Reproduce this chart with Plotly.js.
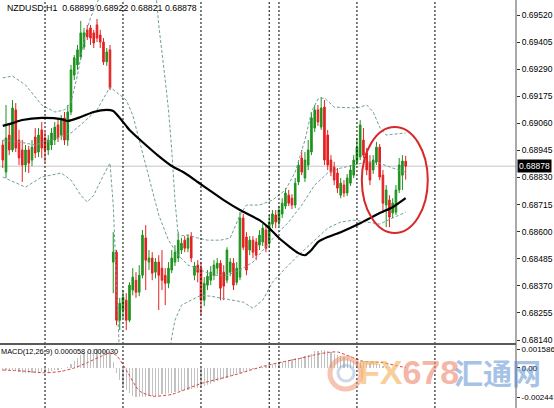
<!DOCTYPE html>
<html>
<head>
<meta charset="utf-8">
<script src="https://cdn.plot.ly/plotly-3.0.1.min.js"></script>
<style>html,body{margin:0;padding:0;background:#fff;}#chart{width:554px;height:408px;}</style>
</head>
<body>
<div id="chart"></div>
<script>
// ---- Candles (NZDUSD H1), bar index 0..124 ----
const open = [0.68968,0.68853,0.69010,0.68947,0.69117,0.68989,0.68947,0.68883,0.68947,0.68904,
0.69002,0.68938,0.69032,0.68998,0.68947,0.68968,0.68989,0.69053,0.69010,0.69083,
0.68989,0.69108,0.69265,0.69308,0.69342,0.69384,0.69457,0.69465,0.69444,0.69478,
0.69435,0.69405,0.69321,0.69372,0.68471,0.68513,0.68224,0.68267,0.68309,0.68224,
0.68352,0.68394,0.68343,0.68415,0.68573,0.68471,0.68488,0.68428,0.68471,0.68445,
0.68415,0.68381,0.68437,0.68471,0.68488,0.68522,0.68564,0.68530,0.68581,0.68415,
0.68458,0.68445,0.68309,0.68373,0.68394,0.68415,0.68445,0.68466,0.68428,0.68394,
0.68428,0.68466,0.68385,0.68407,0.68658,0.68577,0.68522,0.68564,0.68556,0.68543,
0.68556,0.68607,0.68551,0.68632,0.68671,0.68641,0.68675,0.68709,0.68755,0.68742,
0.68713,0.68811,0.68913,0.68828,0.68883,0.68938,0.69040,0.69117,0.69044,0.69129,
0.69010,0.68904,0.68874,0.68849,0.68755,0.68798,0.68764,0.68806,0.68840,0.68896,
0.68917,0.68989,0.68934,0.68896,0.68862,0.68896,0.68959,0.68840,0.68713,0.68734,
0.68679,0.68683,0.68777,0.68840,0.68899];
const high = [0.68989,0.69138,0.69053,0.69159,0.69146,0.69032,0.68989,0.68968,0.68964,0.68989,
0.69040,0.69040,0.69066,0.69023,0.69010,0.69040,0.69066,0.69083,0.69095,0.69108,
0.69138,0.69308,0.69350,0.69393,0.69495,0.69465,0.69478,0.69478,0.69457,0.69503,
0.69457,0.69422,0.69380,0.69393,0.68598,0.68522,0.68319,0.68352,0.68339,0.68385,
0.68445,0.68428,0.68458,0.68607,0.68628,0.68522,0.68513,0.68488,0.68500,0.68522,
0.68445,0.68471,0.68522,0.68543,0.68598,0.68573,0.68581,0.68589,0.68598,0.68471,
0.68479,0.68471,0.68407,0.68437,0.68454,0.68479,0.68488,0.68479,0.68458,0.68534,
0.68488,0.68488,0.68471,0.68683,0.68675,0.68598,0.68581,0.68581,0.68573,0.68607,
0.68632,0.68624,0.68671,0.68692,0.68692,0.68709,0.68742,0.68785,0.68777,0.68759,
0.68828,0.68904,0.68947,0.68938,0.68989,0.69108,0.69138,0.69138,0.69172,0.69159,
0.69032,0.68925,0.68896,0.68870,0.68828,0.68819,0.68845,0.68883,0.68925,0.68998,
0.69074,0.69040,0.68955,0.68925,0.68925,0.68981,0.68972,0.68862,0.68798,0.68755,
0.68742,0.68798,0.68913,0.68925,0.68922];
const low = [0.68870,0.68828,0.68925,0.68938,0.68938,0.68883,0.68811,0.68853,0.68849,0.68879,
0.68913,0.68917,0.68913,0.68896,0.68925,0.68947,0.68968,0.68981,0.68989,0.68968,
0.68964,0.69095,0.69244,0.69287,0.69329,0.69372,0.69414,0.69393,0.69380,0.69405,
0.69380,0.69308,0.69304,0.69202,0.68339,0.68203,0.68182,0.68233,0.68182,0.68216,
0.68330,0.68319,0.68326,0.68402,0.68352,0.68437,0.68394,0.68402,0.68267,0.68352,
0.68288,0.68360,0.68424,0.68454,0.68471,0.68505,0.68513,0.68513,0.68471,0.68394,
0.68385,0.68245,0.68284,0.68352,0.68373,0.68394,0.68419,0.68309,0.68309,0.68381,
0.68411,0.68352,0.68373,0.68394,0.68522,0.68415,0.68500,0.68488,0.68479,0.68522,
0.68539,0.68513,0.68534,0.68615,0.68615,0.68624,0.68658,0.68696,0.68709,0.68696,
0.68700,0.68798,0.68840,0.68811,0.68862,0.68925,0.69023,0.69049,0.69032,0.68883,
0.68862,0.68836,0.68798,0.68764,0.68742,0.68747,0.68751,0.68794,0.68828,0.68883,
0.68904,0.68913,0.68840,0.68798,0.68845,0.68883,0.68819,0.68679,0.68619,0.68619,
0.68658,0.68671,0.68764,0.68777,0.68821];
const close = [0.68904,0.68998,0.68947,0.69125,0.68955,0.68913,0.68883,0.68947,0.68891,0.68959,
0.68934,0.69010,0.68955,0.68947,0.68989,0.69019,0.69044,0.68998,0.69074,0.68989,
0.69108,0.69287,0.69338,0.69372,0.69444,0.69444,0.69427,0.69422,0.69401,0.69422,
0.69405,0.69321,0.69363,0.69210,0.68513,0.68224,0.68296,0.68322,0.68224,0.68373,
0.68407,0.68343,0.68415,0.68585,0.68479,0.68488,0.68424,0.68471,0.68415,0.68394,
0.68381,0.68445,0.68488,0.68513,0.68564,0.68551,0.68530,0.68573,0.68488,0.68454,
0.68428,0.68309,0.68381,0.68411,0.68428,0.68458,0.68466,0.68360,0.68369,0.68522,
0.68471,0.68373,0.68445,0.68658,0.68534,0.68437,0.68564,0.68513,0.68500,0.68585,
0.68615,0.68530,0.68641,0.68675,0.68641,0.68692,0.68721,0.68764,0.68721,0.68713,
0.68806,0.68883,0.68853,0.68904,0.68947,0.69083,0.69117,0.69066,0.69125,0.68904,
0.68883,0.68853,0.68819,0.68785,0.68806,0.68764,0.68828,0.68862,0.68904,0.68959,
0.69053,0.68925,0.68862,0.68819,0.68904,0.68959,0.68832,0.68721,0.68777,0.68662,
0.68721,0.68777,0.68883,0.68900,0.68878];

// ---- Moving average (black) read at sample bars ----
const maIdx = [0,3,6,12,18,20,24,28,32,34,36,38,39,43,48,52,56,60,64,68,73,79,82,85,88,91,93,95,97,100,104,110,116,120,124];
const maVal = [0.69049,0.69061,0.69074,0.69083,0.69078,0.69070,0.69087,0.69108,0.69117,0.69112,0.69083,0.69049,0.69032,0.68981,0.68921,0.68879,0.68849,0.68811,0.68772,0.68734,0.68692,0.68649,0.68615,0.68573,0.68539,0.68509,0.68500,0.68522,0.68556,0.68577,0.68598,0.68636,0.68679,0.68704,0.68742];

// ---- Bollinger bands read at sample bars ----
const bbUpIdx = [0,3,7,12,16,19,21,23,25,27,29,31,47,48,50,51,52,53,54,57,60,63,67,70,73,75,79,83,87,90,93,95,97,99,102,106,109,112,114,116,118,121,124];
const bbUpVal = [0.69253,0.69261,0.69223,0.69138,0.69108,0.69117,0.69150,0.69265,0.69414,0.69508,0.69571,0.69635,0.69635,0.69478,0.69244,0.69117,0.68947,0.68734,0.68581,0.68585,0.68573,0.68564,0.68564,0.68573,0.68671,0.68713,0.68713,0.68734,0.68777,0.68853,0.68989,0.69108,0.69163,0.69168,0.69129,0.69125,0.69125,0.69138,0.69108,0.69044,0.69010,0.69015,0.69019];
const bbMidIdx = [0,5,10,15,19,21,25,29,33,35,38,40,42,45,48,51,54,57,61,65,69,73,77,80,84,88,92,96,100,104,108,112,116,120,124];
const bbMidVal = [0.68989,0.68981,0.68968,0.68989,0.69010,0.69019,0.69066,0.69117,0.69214,0.69193,0.69159,0.69095,0.68989,0.68819,0.68671,0.68564,0.68500,0.68458,0.68437,0.68415,0.68415,0.68437,0.68471,0.68522,0.68585,0.68641,0.68713,0.68798,0.68849,0.68870,0.68883,0.68896,0.68891,0.68870,0.68853];
const bbLowIdx = [0,4,7,12,18,21,24,26,28,31,33,34,35,36,51,52,53,55,58,61,64,67,70,74,77,80,83,87,91,95,100,104,108,112,116,120,124];
const bbLowVal = [0.68832,0.68806,0.68789,0.68832,0.68849,0.68819,0.68755,0.68726,0.68755,0.68840,0.68891,0.68713,0.68352,0.68054,0.68054,0.68152,0.68224,0.68288,0.68309,0.68330,0.68326,0.68319,0.68309,0.68301,0.68275,0.68309,0.68385,0.68445,0.68500,0.68551,0.68615,0.68641,0.68649,0.68641,0.68632,0.68658,0.68683];

// ---- MACD(12,26,9): main histogram per bar, signal read at sample bars ----
const macdMain = [-0.00025,-0.00020,-0.00025,-0.00015,-0.00020,-0.00030,-0.00040,-0.00040,-0.00045,-0.00045,-0.00040,-0.00040,-0.00035,-0.00035,
-0.00030,-0.00025,-0.00020,-0.00015,-0.00005,0.00000,0.00010,
0.00035,0.00060,0.00080,0.00105,0.00125,0.00140,0.00150,0.00155,0.001586,0.00155,0.00150,0.00140,0.00120,
0.00050,-0.00040,-0.00100,-0.00150,-0.00185,-0.00210,-0.00230,-0.00240,-0.002441,-0.00242,-0.00238,-0.00235,
-0.00235,-0.00230,-0.00225,-0.00220,-0.00215,-0.00210,-0.00205,-0.00200,-0.00195,-0.00190,-0.00185,-0.00180,-0.00175,-0.00170,-0.00165,
-0.00160,-0.00150,-0.00140,-0.00130,-0.00120,-0.00110,-0.00100,-0.00090,-0.00080,-0.00065,-0.00055,-0.00045,-0.00040,-0.00030,-0.00025,-0.00020,-0.00010,-0.00005,0.00000,0.00005,0.00015,
0.00025,0.00030,0.00035,0.00040,0.00050,0.00060,0.00070,0.00075,0.00080,0.00085,0.00090,0.00100,0.00110,0.00120,0.00140,0.00145,0.00150,
0.00150,0.00140,0.00130,0.00120,0.00110,0.00100,0.00090,0.00080,0.00070,0.00060,0.00055,0.00055,
0.00050,0.00045,0.00040,0.00040,0.00035,0.00030,0.00020,0.00010,0.00005,0.00000,-0.00002,0.00002,0.00004,0.000058];
const sigIdx = [0,6,13,18,22,26,30,33,35,38,42,46,52,61,71,81,86,92,96,100,103,107,111,117,121,124];
const sigVal = [-0.00017,-0.00025,-0.00040,-0.00028,0.00000,0.00045,0.00095,0.00125,0.00105,-0.00017,-0.00190,-0.00235,-0.00220,-0.00130,-0.00060,0.00020,0.00050,0.00083,0.00110,0.00130,0.00134,0.00095,0.00055,0.00045,0.00020,0.00003];

// ---- Axis ticks / labels ----
const priceTicks = [0.69520,0.69405,0.69290,0.69175,0.69060,0.68945,0.68830,0.68715,0.68600,0.68485,0.68370,0.68255,0.68140];
const macdTicks = [0.001586,0,-0.002441];
const macdTickText = ['0.001586','0.00','-0.002441'];
const daySeparators = [13,37,61,82,85,109,133];
const lastPrice = 0.68878;
const titleText = 'NZDUSD,H1\u00a0 0.68899 0.68922 0.68821 0.68878';
const macdText = 'MACD(12,26,9) 0.000058 0.000030';

const idx = open.map((_, i) => i);
const FONT = 'Liberation Sans, Arial, sans-serif';
const bandStyle = {color:'#6f9f9a', width:1, dash:'3px,2px'};

const traces = [
  {type:'scatter', mode:'lines', x:bbUpIdx, y:bbUpVal, line:bandStyle, xaxis:'x', yaxis:'y', hoverinfo:'skip'},
  {type:'scatter', mode:'lines', x:bbMidIdx, y:bbMidVal, line:bandStyle, xaxis:'x', yaxis:'y', hoverinfo:'skip'},
  {type:'scatter', mode:'lines', x:bbLowIdx, y:bbLowVal, line:bandStyle, xaxis:'x', yaxis:'y', hoverinfo:'skip'},
  {type:'candlestick', x:idx, open:open, high:high, low:low, close:close, xaxis:'x', yaxis:'y',
   whiskerwidth:0,
   increasing:{line:{color:'#1f921f', width:1}, fillcolor:'#1f921f'},
   decreasing:{line:{color:'#e52020', width:1}, fillcolor:'#e52020'}},
  {type:'scatter', mode:'lines', x:maIdx, y:maVal, line:{color:'#000', width:2.2, shape:'spline', smoothing:0.6}, xaxis:'x', yaxis:'y', hoverinfo:'skip'},
  {type:'bar', x:idx, y:macdMain, width:0.35, marker:{color:'#c2c2c2', line:{width:0}}, xaxis:'x', yaxis:'y2', hoverinfo:'skip'},
  {type:'scatter', mode:'lines', x:sigIdx, y:sigVal, line:{color:'#d9443c', width:1, dash:'3px,2px', shape:'spline', smoothing:0.6}, xaxis:'x', yaxis:'y2', hoverinfo:'skip'}
];

const shapes = [];
shapes.push({type:'line', xref:'paper', yref:'y', x0:0, x1:1, y0:lastPrice, y1:lastPrice, layer:'below', line:{color:'#c4c4c4', width:1}});
daySeparators.forEach(s => shapes.push({type:'line', xref:'x', yref:'paper', x0:s, x1:s, y0:0, y1:1, line:{color:'#000', width:1, dash:'2px,2px'}}));
shapes.push({type:'line', xref:'paper', yref:'paper', x0:0, x1:1, y0:0.1569, y1:0.1569, line:{color:'#5a5a5a', width:2}});
shapes.push({type:'line', xref:'paper', yref:'paper', x0:1, x1:1, y0:0, y1:1, line:{color:'#555', width:1}});
shapes.push({type:'circle', xref:'x', yref:'y', x0:110.5, x1:130.8, y0:0.68594, y1:0.69044, line:{color:'#d8282a', width:2}});
// watermark logo rings
shapes.push({type:'circle', xref:'paper', yref:'paper', x0:0.6395, x1:0.6996, y0:0.0465, y1:0.1225, line:{color:'rgba(238,140,100,0.5)', width:5}});
shapes.push({type:'circle', xref:'paper', yref:'paper', x0:0.6550, x1:0.6860, y0:0.0660, y1:0.1050, line:{color:'rgba(130,160,200,0.4)', width:3}});

const annotations = [
  {xref:'paper', yref:'paper', x:0.0097, y:0.9804, xanchor:'left', yanchor:'middle', showarrow:false, text:titleText, font:{family:FONT, size:8.8, color:'#000'}},
  {xref:'paper', yref:'paper', x:0.0, xshift:-1, y:0.1373, xanchor:'left', yanchor:'middle', showarrow:false, text:macdText, font:{family:FONT, size:7.4, color:'#000'}},
  {xref:'paper', yref:'y', x:1, xshift:1, y:lastPrice, xanchor:'left', yanchor:'middle', showarrow:false, text:'0.68878', bgcolor:'#000', borderpad:1, font:{family:FONT, size:8.5, color:'#fff'}},
  {xref:'paper', yref:'paper', x:0.793, y:0.088, xanchor:'center', yanchor:'middle', showarrow:false, opacity:0.62,
   text:'<b><span style="color:#f6b25c">FX</span><span style="color:#ee8a72">678</span></b>', font:{family:FONT, size:34}},
  {xref:'paper', yref:'paper', x:0.965, y:0.088, xanchor:'center', yanchor:'middle', showarrow:false, opacity:0.5,
   text:'<b>汇通网</b>', font:{family:'Noto Sans CJK SC, sans-serif', size:29, color:'#4f86cc'}}
];

const axisFont = {family:FONT, size:8.5, color:'#000'};
const macdFont = {family:FONT, size:8, color:'#000'};
const layout = {
  width:554, height:408,
  margin:{l:0, r:38, t:0, b:0, pad:0},
  paper_bgcolor:'#fff', plot_bgcolor:'#fff',
  showlegend:false,
  boxgap:0.3,
  xaxis:{range:[-0.85,157.95], showgrid:false, zeroline:false, showticklabels:false, ticks:'', showline:false, rangeslider:{visible:false}, anchor:'y2', fixedrange:true},
  yaxis:{domain:[0.1593,1], range:[0.681273,0.695837], side:'right', anchor:'x', showgrid:false, zeroline:false, showline:false,
         tickmode:'array', tickvals:priceTicks, ticktext:priceTicks.map(v => v.toFixed(5)), ticks:'outside', ticklen:3, tickcolor:'#333', tickfont:axisFont, fixedrange:true},
  yaxis2:{domain:[0,0.1544], range:[-0.00334,0.00192], side:'right', anchor:'x', showgrid:false, zeroline:false, showline:false,
         tickmode:'array', tickvals:macdTicks, ticktext:macdTickText, ticks:'outside', ticklen:3, tickcolor:'#333', tickfont:macdFont, fixedrange:true},
  shapes:shapes,
  annotations:annotations,
  bargap:0
};

Plotly.newPlot('chart', traces, layout, {staticPlot:true, displayModeBar:false});
</script>
</body>
</html>
